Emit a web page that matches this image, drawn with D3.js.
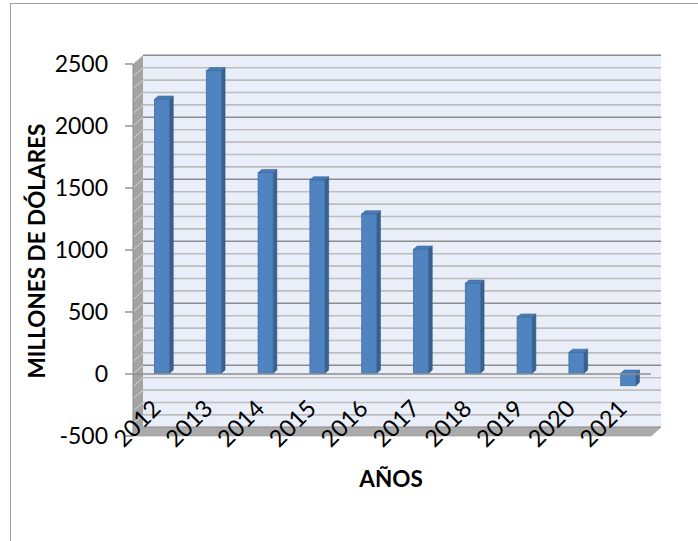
<!DOCTYPE html>
<html><head><meta charset="utf-8">
<script src="https://cdn.jsdelivr.net/npm/d3@7"></script>
<style>body{margin:0;background:#fff}svg{display:block}</style>
</head><body>
<script>
const categories = ["2012","2013","2014","2015","2016","2017","2018","2019","2020","2021"];
const values = [2210, 2440, 1618, 1559, 1285, 1000, 726, 452, 169, -100];
const yTicks = [-500, 0, 500, 1000, 1500, 2000, 2500];
const yTitle = "MILLONES DE DÓLARES";
const xTitle = "AÑOS";

const W = 698, H = 541;
const svg = d3.select("body").append("svg").attr("width", W).attr("height", H);

const x0 = 133, x1 = 651;
const DX = 10, DY = -8.7;
const y = d3.scaleLinear().domain([-500, 2500]).range([436, 64]);
const x = d3.scaleBand().domain(categories).range([x0, x1]).padding(0);
const proj = (px, v, z) => [px + DX * z, y(v) + DY * z];
const poly = pts => pts.map(p => p.join(",")).join(" ");

// outer border
svg.append("rect").attr("x", 10.5).attr("y", 3.5).attr("width", 720).attr("height", 600)
  .attr("fill", "none").attr("stroke", "#a0a0a0").attr("stroke-width", 1);

// back wall
const bw0 = proj(x0, 2500, 1), bw1 = proj(x1, -500, 1);
svg.append("rect").attr("x", bw0[0]).attr("y", bw0[1]).attr("width", bw1[0] - bw0[0]).attr("height", bw1[1] - bw0[1])
  .attr("fill", "#e9eef8");

const grid = d3.range(-500, 2501, 100);
svg.append("g").selectAll("line").data(grid).join("line")
  .attr("x1", d => proj(x0, d, 1)[0]).attr("x2", d => proj(x1, d, 1)[0])
  .attr("y1", d => proj(x0, d, 1)[1]).attr("y2", d => proj(x1, d, 1)[1])
  .attr("stroke", d => d % 500 === 0 ? "#8c8c8c" : "#bdbdbd")
  .attr("stroke-width", 1.6);

// side wall
svg.append("polygon").attr("points", poly([proj(x0, 2500, 0), proj(x0, 2500, 1), proj(x0, -500, 1), proj(x0, -500, 0)]))
  .attr("fill", "#a3a3a3");
svg.append("g").selectAll("line").data(grid).join("line")
  .attr("x1", d => proj(x0, d, 0)[0]).attr("x2", d => proj(x0, d, 1)[0])
  .attr("y1", d => proj(x0, d, 0)[1]).attr("y2", d => proj(x0, d, 1)[1])
  .attr("stroke", "#d4d4d4").attr("stroke-width", 1);

// floor
svg.append("polygon").attr("points", poly([proj(x0, -500, 0), proj(x0, -500, 1), proj(x1, -500, 1), proj(x1, -500, 0)]))
  .attr("fill", "#aaaaaa").attr("stroke", "#999").attr("stroke-width", 0.6);

// bars
const z0 = 0.08, z1 = 0.45;
const bars = svg.append("g");
categories.forEach((c, i) => {
  const v = values[i];
  const top = Math.max(v, 0), base = Math.min(v, 0);
  const xl = x(c) + x.bandwidth() * 0.40;
  const xr = xl + x.bandwidth() * 0.29;
  bars.append("polygon").attr("points", poly([proj(xr, top, z0), proj(xr, top, z1), proj(xr, base, z1), proj(xr, base, z0)]))
    .attr("fill", "#38618f").attr("stroke", "#2f557f").attr("stroke-width", 0.6);
  bars.append("polygon").attr("points", poly([proj(xl, top, z0), proj(xr, top, z0), proj(xr, top, z1), proj(xl, top, z1)]))
    .attr("fill", "#4a7db8").attr("stroke", "#3a6797").attr("stroke-width", 0.6);
  const f0 = proj(xl, top, z0), f1 = proj(xr, base, z0);
  bars.append("rect").attr("x", f0[0]).attr("y", f0[1]).attr("width", f1[0] - f0[0]).attr("height", f1[1] - f0[1])
    .attr("fill", "#4f84c0").attr("stroke", "#3d6c9f").attr("stroke-width", 0.8);
});

// category axis line at 0 (front)
svg.append("line").attr("x1", x0).attr("x2", x1).attr("y1", y(0)).attr("y2", y(0))
  .attr("stroke", "#8c8c8c").attr("stroke-width", 1.6);

// value axis line and ticks
svg.append("line").attr("x1", x0).attr("x2", x0).attr("y1", y(2500)).attr("y2", y(-500))
  .attr("stroke", "#8c8c8c").attr("stroke-width", 1);
const yt = svg.append("g");
yt.selectAll("line").data(yTicks).join("line")
  .attr("x1", 125).attr("x2", x0).attr("y1", d => y(d)).attr("y2", d => y(d))
  .attr("stroke", "#868686").attr("stroke-width", 1.3);
yt.selectAll("text").data(yTicks).join("text")
  .attr("x", 108).attr("y", d => y(d)).attr("dy", "0.36em")
  .attr("text-anchor", "end").attr("font-family", "Lato, 'Open Sans', sans-serif")
  .attr("font-size", 23).attr("fill", "#000").text(d => d);

// category labels
svg.append("g").selectAll("text").data(categories).join("text")
  .attr("transform", (d) => `translate(${x(d) + x.bandwidth() * 0.545 + 1},410) rotate(-45)`)
  .attr("text-anchor", "end").attr("font-family", "Lato, 'Open Sans', sans-serif")
  .attr("font-size", 23.5).attr("fill", "#000").text(d => d);

// titles
svg.append("text").attr("transform", "translate(45,251) rotate(-90)")
  .attr("text-anchor", "middle").attr("font-family", "Lato, 'Open Sans', sans-serif")
  .attr("font-weight", "bold").attr("font-size", 22.5).attr("fill", "#000").text(yTitle);
svg.append("text").attr("x", 391).attr("y", 487)
  .attr("text-anchor", "middle").attr("font-family", "Lato, 'Open Sans', sans-serif")
  .attr("font-weight", "bold").attr("font-size", 22.5).attr("fill", "#000").text(xTitle);
</script>
</body></html>
